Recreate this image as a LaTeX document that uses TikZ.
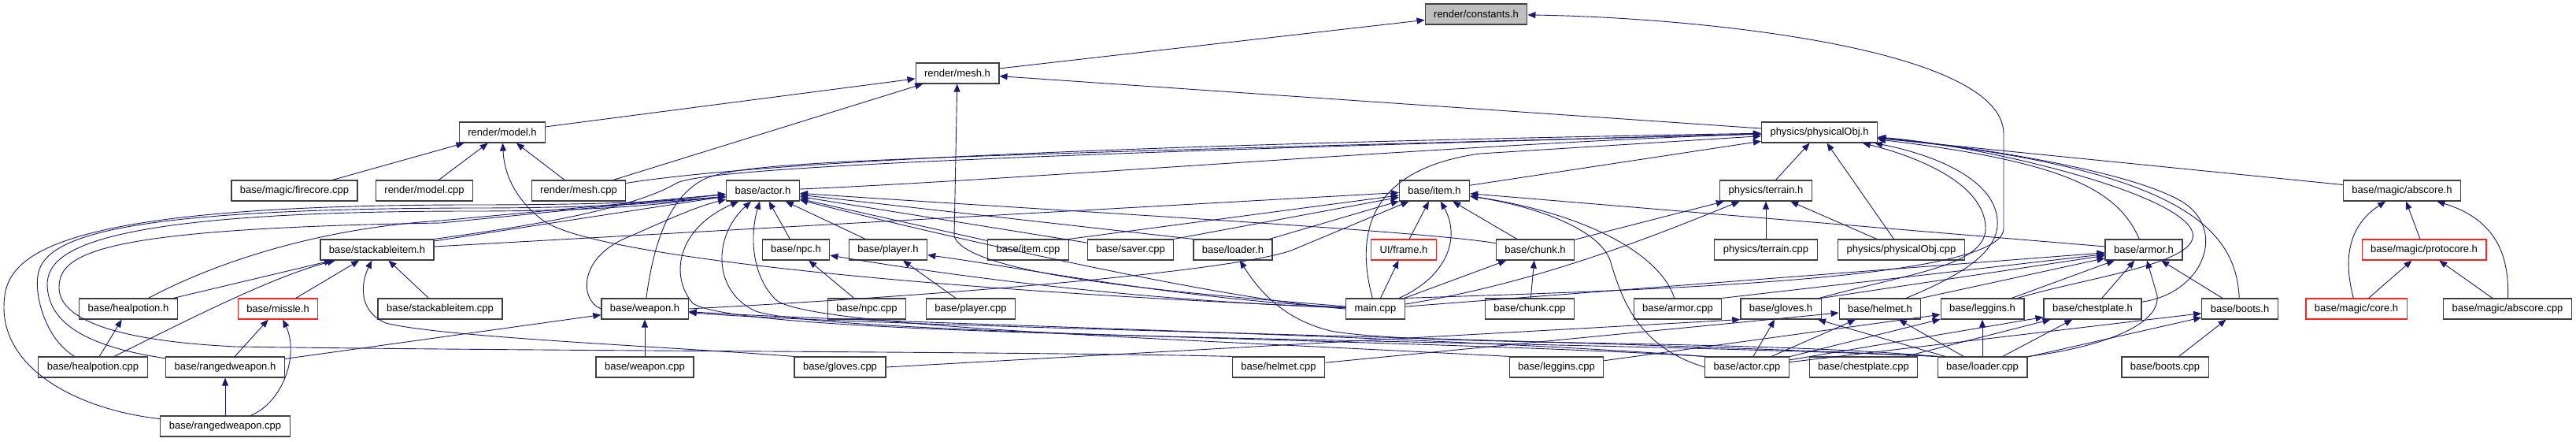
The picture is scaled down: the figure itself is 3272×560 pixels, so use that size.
\documentclass[tikz,border=0pt]{standalone}
\usepackage{fontspec}
\setmainfont{Liberation Sans}
\usepackage{tikz}
\usetikzlibrary{arrows.meta,positioning}
\definecolor{dgEdge}{HTML}{191970}
\definecolor{dgFrame}{HTML}{404040}
\definecolor{dgRed}{HTML}{FF2020}
\definecolor{dgRoot}{HTML}{BFBFBF}
\tikzset{
  dg/file/.style={draw=dgFrame, line width=1.2pt, fill=white, minimum height=26pt, inner xsep=11pt, inner ysep=0pt, font=\fontsize{13}{15}\selectfont},
  dg/missing/.style={dg/file, draw=dgRed},
  dg/root/.style={dg/file, fill=dgRoot},
  dg/edge/.style={draw=dgEdge, line width=0.9pt, -{Triangle[length=10pt,width=8pt]}}
}

\begin{document}
\begin{tikzpicture}[x=1pt, y=-1pt]
  \useasboundingbox (0,0) rectangle (3272,560);

  % ranks, top to bottom
  \node[dg/root] (constantsH) at (1875,18) {render/constants.h};
  \node[dg/file] (meshH) at (1216,93) {render/mesh.h};
  \node[dg/file] (modelH) at (638,168) {render/model.h};
  \node[dg/file] (physObjH) at (2311,168) {physics/physicalObj.h};

  \node[dg/file] (fireCoreCpp) at (374,242) {base/magic/firecore.cpp};
  \node[dg/file] (modelCpp) at (539,242) {render/model.cpp};
  \node[dg/file] (meshCpp) at (735,242) {render/mesh.cpp};
  \node[dg/file] (actorH) at (969,242) {base/actor.h};
  \node[dg/file] (itemH) at (1822,242) {base/item.h};
  \node[dg/file] (terrainH) at (2243,242) {physics/terrain.h};
  \node[dg/file] (absCoreH) at (3051,242) {base/magic/abscore.h};

  \node[dg/file] (stackItemH) at (479,317) {base/stackableitem.h};
  \node[dg/file] (npcH) at (1011,317) {base/npc.h};
  \node[dg/file] (playerH) at (1128,317) {base/player.h};
  \node[dg/file] (itemCpp) at (1306,317) {base/item.cpp};
  \node[dg/file] (saverCpp) at (1436,317) {base/saver.cpp};
  \node[dg/file] (loaderH) at (1566,317) {base/loader.h};
  \node[dg/missing] (frameH) at (1783,317) {UI/frame.h};
  \node[dg/file] (chunkH) at (1950,317) {base/chunk.h};
  \node[dg/file] (terrainCpp) at (2243,317) {physics/terrain.cpp};
  \node[dg/file] (physObjCpp) at (2415,317) {physics/physicalObj.cpp};
  \node[dg/file] (armorH) at (2723,317) {base/armor.h};
  \node[dg/missing] (protoCoreH) at (3079,317) {base/magic/protocore.h};

  \node[dg/file] (healPotionH) at (163,392) {base/healpotion.h};
  \node[dg/missing] (missleH) at (353,392) {base/missle.h};
  \node[dg/file] (stackItemCpp) at (559,392) {base/stackableitem.cpp};
  \node[dg/file] (weaponH) at (819,392) {base/weapon.h};
  \node[dg/file] (npcCpp) at (1101,392) {base/npc.cpp};
  \node[dg/file] (playerCpp) at (1233,392) {base/player.cpp};
  \node[dg/file] (mainCpp) at (1747,392) {main.cpp};
  \node[dg/file] (chunkCpp) at (1943,392) {base/chunk.cpp};
  \node[dg/file] (armorCpp) at (2131,392) {base/armor.cpp};
  \node[dg/file] (glovesH) at (2262,392) {base/gloves.h};
  \node[dg/file] (helmetH) at (2388,392) {base/helmet.h};
  \node[dg/file] (legginsH) at (2518,392) {base/leggins.h};
  \node[dg/file] (chestH) at (2658,392) {base/chestplate.h};
  \node[dg/file] (bootsH) at (2845,392) {base/boots.h};
  \node[dg/missing] (coreH) at (2993,392) {base/magic/core.h};
  \node[dg/file] (absCoreCpp) at (3185,392) {base/magic/abscore.cpp};

  \node[dg/file] (healPotionCpp) at (118,466) {base/healpotion.cpp};
  \node[dg/file] (rangedH) at (286,466) {base/rangedweapon.h};
  \node[dg/file] (weaponCpp) at (819,466) {base/weapon.cpp};
  \node[dg/file] (glovesCpp) at (1067,466) {base/gloves.cpp};
  \node[dg/file] (helmetCpp) at (1624,466) {base/helmet.cpp};
  \node[dg/file] (legginsCpp) at (1977,466) {base/leggins.cpp};
  \node[dg/file] (actorCpp) at (2219,466) {base/actor.cpp};
  \node[dg/file] (chestCpp) at (2367,466) {base/chestplate.cpp};
  \node[dg/file] (loaderCpp) at (2518,466) {base/loader.cpp};
  \node[dg/file] (bootsCpp) at (2750,466) {base/boots.cpp};

  \node[dg/file] (rangedCpp) at (286,541) {base/rangedweapon.cpp};

  % render/constants.h
  \draw[dg/edge] (meshH) -- (constantsH);
  \draw[dg/edge] (mainCpp.north east) .. controls (2100,368) and (2545,355) .. (2545,290) -- (2545,170) .. controls (2545,60) and (2150,22) .. (constantsH);

  % render/mesh.h
  \draw[dg/edge] (modelH) -- (meshH);
  \draw[dg/edge] (meshCpp) -- (meshH);
  \draw[dg/edge] (mainCpp) .. controls (1500,372) and (1230,350) .. (1212,300) -- (meshH);
  \draw[dg/edge] (physObjH) -- (meshH);

  % render/model.h
  \draw[dg/edge] (fireCoreCpp) -- (modelH);
  \draw[dg/edge] (modelCpp) -- (modelH);
  \draw[dg/edge] (meshCpp) -- (modelH);
  \draw[dg/edge] (mainCpp) .. controls (1250,372) and (760,330) .. (690,280) .. controls (650,250) and (640,215) .. (modelH);

  % physics/physicalObj.h
  \draw[dg/edge] (meshCpp) .. controls (1000,200) and (1600,180) .. (physObjH);
  \draw[dg/edge] (actorH) .. controls (1300,228) and (1900,180) .. (physObjH);
  \draw[dg/edge] (itemH) -- (physObjH);
  \draw[dg/edge] (stackItemH.north east) .. controls (650,290) and (800,268) .. (860,232) .. controls (900,215) and (1200,198) .. (physObjH);
  \draw[dg/edge] (weaponH) .. controls (830,310) and (850,245) .. (900,225) .. controls (960,205) and (1100,200) .. (physObjH);
  \draw[dg/edge] (mainCpp) .. controls (1722,300) and (1735,215) .. (1880,195) -- (physObjH);
  \draw[dg/edge] (terrainH) -- (physObjH);
  \draw[dg/edge] (physObjCpp) -- (physObjH);
  \draw[dg/edge] (armorH) .. controls (2690,240) and (2620,205) .. (physObjH);
  \draw[dg/edge] (absCoreH) -- (physObjH);
  \draw[dg/edge] (bootsH) .. controls (2840,300) and (2790,215) .. (physObjH);
  \draw[dg/edge] (chestH) .. controls (2800,372) and (2830,290) .. (2770,255) .. controls (2700,215) and (2500,185) .. (physObjH);
  \draw[dg/edge] (legginsH) .. controls (2650,352) and (2795,335) .. (2785,295) .. controls (2770,245) and (2520,185) .. (physObjH);
  \draw[dg/edge] (helmetH) .. controls (2490,350) and (2540,320) .. (2537,280) .. controls (2534,225) and (2450,195) .. (physObjH);
  \draw[dg/edge] (glovesH) .. controls (2420,348) and (2522,338) .. (2522,290) .. controls (2522,235) and (2440,200) .. (physObjH);

  % base/actor.h
  \draw[dg/edge] (stackItemH) -- (actorH);
  \draw[dg/edge] (healPotionH) .. controls (270,335) and (400,290) .. (560,280) -- (actorH);
  \draw[dg/edge] (healPotionCpp) .. controls (60,432) and (44,380) .. (48,350) .. controls (55,300) and (150,265) .. (600,264) .. controls (820,264) and (880,252) .. ([yshift=-8pt]actorH.west);
  \draw[dg/edge] (rangedH) .. controls (110,440) and (60,410) .. (60,360) .. controls (62,320) and (110,268) .. (600,268) .. controls (820,268) and (880,252) .. ([yshift=-8pt]actorH.west);
  \draw[dg/edge] (rangedCpp) .. controls (100,520) and (5,470) .. (5,390) .. controls (5,330) and (40,260) .. (600,260) .. controls (820,260) and (880,252) .. ([yshift=-8pt]actorH.west);
  \draw[dg/edge] (helmetCpp.north west) .. controls (1300,446) and (700,446) .. (300,440) .. controls (130,432) and (75,400) .. (75,365) .. controls (75,320) and (130,290) .. (560,283) -- (actorH);
  \draw[dg/edge] (weaponH.west) .. controls (735,380) and (735,325) .. (800,300) .. controls (850,278) and (885,262) .. (actorH);
  \draw[dg/edge] (npcH) -- (actorH);
  \draw[dg/edge] (playerH) -- (actorH);
  \draw[dg/edge] (itemCpp) -- (actorH);
  \draw[dg/edge] (saverCpp) -- (actorH);
  \draw[dg/edge] (loaderH.north west) -- (actorH);
  \draw[dg/edge] (chunkH) .. controls (1800,292) and (1300,265) .. (actorH);
  \draw[dg/edge] (mainCpp.west) .. controls (1550,380) and (1200,300) .. (actorH);
  \draw[dg/edge] (actorCpp.north west) .. controls (1800,430) and (1050,425) .. (960,395) .. controls (905,370) and (905,300) .. (actorH);
  \draw[dg/edge] (legginsCpp.north west) .. controls (1500,430) and (1020,415) .. (985,380) .. controls (955,350) and (952,300) .. (actorH);
  \draw[dg/edge] (loaderCpp.north west) .. controls (1900,428) and (950,432) .. (880,385) .. controls (850,350) and (860,290) .. (actorH);

  % base/item.h
  \draw[dg/edge] (stackItemH) -- (itemH);
  \draw[dg/edge] (itemCpp.north east) -- (itemH);
  \draw[dg/edge] (saverCpp.north east) -- (itemH);
  \draw[dg/edge] (loaderH) -- (itemH);
  \draw[dg/edge] (frameH) -- (itemH);
  \draw[dg/edge] (chunkH) -- (itemH);
  \draw[dg/edge] (mainCpp) .. controls (1840,350) and (1855,300) .. (itemH);
  \draw[dg/edge] (weaponH.east) .. controls (1200,375) and (1560,345) .. (1640,318) -- (itemH);
  \draw[dg/edge] (armorH) -- (itemH);
  \draw[dg/edge] (armorCpp) .. controls (2110,325) and (2020,272) .. (itemH);
  \draw[dg/edge] (actorCpp.west) .. controls (2080,440) and (2060,380) .. (2045,330) .. controls (2030,290) and (1950,262) .. (itemH);

  % physics/terrain.h
  \draw[dg/edge] (terrainCpp) -- (terrainH);
  \draw[dg/edge] (physObjCpp) -- (terrainH);
  \draw[dg/edge] (chunkH) -- (terrainH);
  \draw[dg/edge] (mainCpp) .. controls (1950,360) and (2100,300) .. (terrainH);

  % base/magic
  \draw[dg/edge] (protoCoreH) -- (absCoreH);
  \draw[dg/edge] (coreH) .. controls (2975,325) and (2985,285) .. (absCoreH);
  \draw[dg/edge] (absCoreCpp) .. controls (3187,330) and (3175,280) .. (absCoreH);
  \draw[dg/edge] (coreH) -- (protoCoreH);
  \draw[dg/edge] (absCoreCpp) -- (protoCoreH);

  % base/stackableitem.h
  \draw[dg/edge] (healPotionH) -- (stackItemH);
  \draw[dg/edge] (healPotionCpp) .. controls (250,400) and (350,350) .. (stackItemH);
  \draw[dg/edge] (missleH) -- (stackItemH);
  \draw[dg/edge] (stackItemCpp) -- (stackItemH);
  \draw[dg/edge] (glovesCpp.north west) .. controls (850,440) and (560,428) .. (490,410) .. controls (455,395) and (458,360) .. (stackItemH);

  % base/npc.h, base/player.h, base/loader.h, UI/frame.h, base/chunk.h
  \draw[dg/edge] (npcCpp) -- (npcH);
  \draw[dg/edge] (mainCpp) .. controls (1400,380) and (1150,340) .. (npcH);
  \draw[dg/edge] (playerCpp) -- (playerH);
  \draw[dg/edge] (mainCpp) .. controls (1500,380) and (1300,340) .. (playerH);
  \draw[dg/edge] (loaderCpp.north west) .. controls (2200,430) and (1800,440) .. (1690,420) .. controls (1630,405) and (1600,370) .. (loaderH);
  \draw[dg/edge] (mainCpp) -- (frameH);
  \draw[dg/edge] (chunkCpp) -- (chunkH);
  \draw[dg/edge] (mainCpp) -- (chunkH);

  % base/missle.h, base/rangedweapon.h, base/healpotion.h
  \draw[dg/edge] (rangedH) -- (missleH);
  \draw[dg/edge] (rangedCpp) .. controls (360,510) and (380,450) .. (missleH);
  \draw[dg/edge] (rangedCpp) -- (rangedH);
  \draw[dg/edge] (healPotionCpp) -- (healPotionH);

  % base/weapon.h
  \draw[dg/edge] (weaponCpp) -- (weaponH);
  \draw[dg/edge] (rangedH) -- (weaponH);
  \draw[dg/edge] (actorCpp.north west) .. controls (1800,425) and (1100,410) .. (weaponH);
  \draw[dg/edge] (loaderCpp.north west) .. controls (2000,430) and (1100,415) .. (weaponH);

  % base/armor.h
  \draw[dg/edge] (glovesH.north east) -- (armorH);
  \draw[dg/edge] (helmetH.north east) -- (armorH);
  \draw[dg/edge] (legginsH) -- (armorH);
  \draw[dg/edge] (chestH) -- (armorH);
  \draw[dg/edge] (bootsH) -- (armorH);
  \draw[dg/edge] (armorCpp.north east) -- (armorH);
  \draw[dg/edge] (mainCpp) -- (armorH);
  \draw[dg/edge] (loaderCpp.north east) .. controls (2640,445) and (2745,420) .. (2740,375) -- (armorH);

  % armour pieces
  \draw[dg/edge] (glovesCpp.east) -- (glovesH.south west);
  \draw[dg/edge] (actorCpp) -- (glovesH);
  \draw[dg/edge] (loaderCpp) -- (glovesH);
  \draw[dg/edge] (helmetCpp) -- (helmetH);
  \draw[dg/edge] (actorCpp) -- (helmetH);
  \draw[dg/edge] (loaderCpp) -- (helmetH);
  \draw[dg/edge] (legginsCpp) -- (legginsH);
  \draw[dg/edge] (actorCpp) -- (legginsH);
  \draw[dg/edge] (loaderCpp) -- (legginsH);
  \draw[dg/edge] (chestCpp) -- (chestH);
  \draw[dg/edge] (actorCpp) -- (chestH);
  \draw[dg/edge] (loaderCpp) -- (chestH);
  \draw[dg/edge] (bootsCpp) -- (bootsH);
  \draw[dg/edge] (actorCpp) -- (bootsH);
  \draw[dg/edge] (loaderCpp) -- (bootsH);
\end{tikzpicture}
\end{document}
